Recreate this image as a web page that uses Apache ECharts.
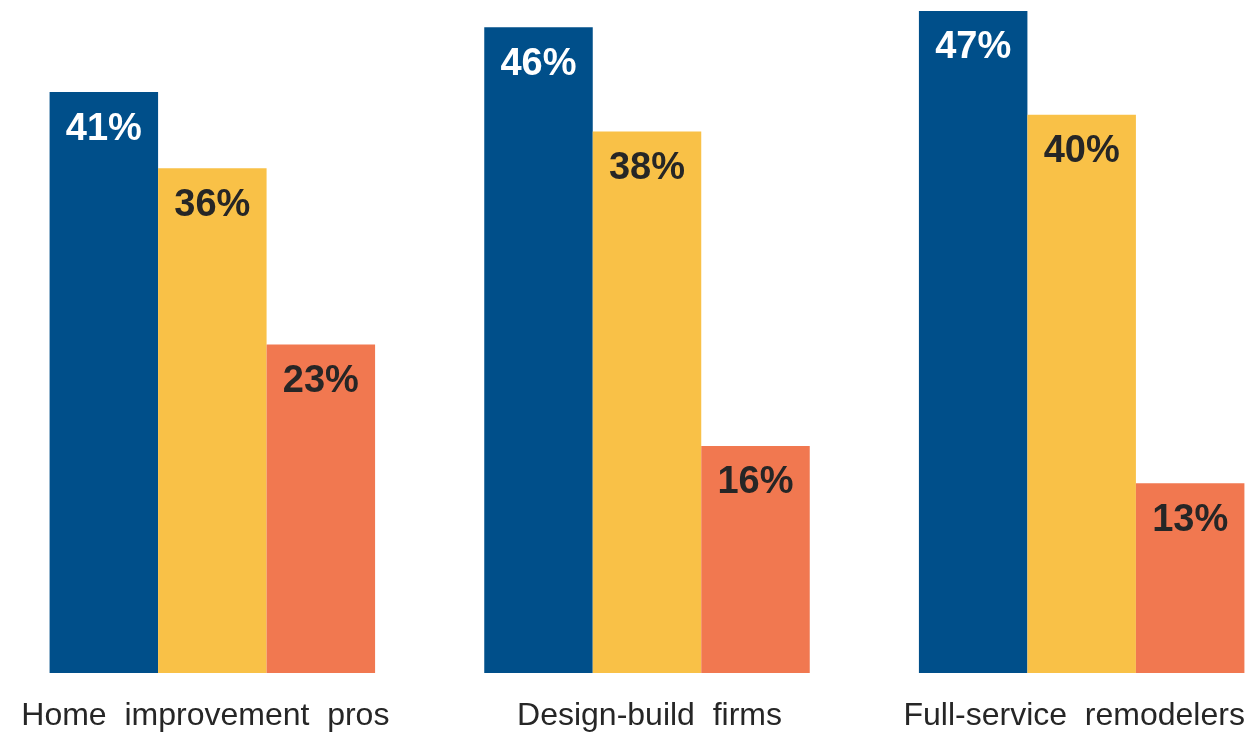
<!DOCTYPE html>
<html>
<head>
<meta charset="utf-8">
<script src="https://cdn.jsdelivr.net/npm/echarts@6/dist/echarts.min.js"></script>
<style>
html,body{margin:0;padding:0;background:#fff;overflow:hidden;width:1252px;height:733px;position:relative;}
#chart{position:absolute;left:-5px;top:0;width:1304px;height:733px;}
</style>
</head>
<body>
<div id="chart"></div>
<script>
var categories = ['Home improvement pros', 'Design-build firms', 'Full-service remodelers'];
var seriesBlue = [41.2, 45.8, 46.95];
var seriesYellow = [35.8, 38.4, 39.6];
var seriesOrange = [23.3, 16.1, 13.45];
var colors = ['#004F8A', '#F9C147', '#F17850'];
var labelColors = ['#ffffff', '#262626', '#262626'];

var chart = echarts.init(document.getElementById('chart'));
function mk(data, i) {
  return {
    type: 'bar',
    data: data,
    barWidth: 108.5,
    barGap: '0%',
    itemStyle: { color: colors[i] },
    label: {
      show: true,
      position: 'insideTop',
      distance: 18,
      fontFamily: 'Liberation Sans, Arial, sans-serif',
      fontWeight: 'bold',
      fontSize: 38,
      color: labelColors[i],
      formatter: function (p) { return Math.round(p.value) + '%'; }
    },
    animation: false
  };
}
var labelFont = { fontFamily: 'Liberation Sans, Arial, sans-serif', fontSize: 32, color: '#262626' };
chart.setOption({
  animation: false,
  grid: { left: 0, right: 0, top: 0, bottom: 60, containLabel: false },
  xAxis: {
    type: 'category',
    data: categories,
    axisLine: { show: false },
    axisTick: { show: false },
    axisLabel: {
      interval: 0,
      margin: 27,
      fontFamily: 'Liberation Sans, Arial, sans-serif',
      fontSize: 32,
      color: '#262626',
      formatter: function (v, idx) { return '{c' + idx + '|' + v.split(' ').join('  ') + '}'; },
      rich: {
        c0: Object.assign({ padding: [0, 14, 0, 0] }, labelFont),
        c1: Object.assign({ padding: [0, 0, 0, 5] }, labelFont),
        c2: Object.assign({ padding: [0, 15, 0, 0] }, labelFont)
      }
    }
  },
  yAxis: {
    type: 'value',
    min: 0,
    max: 47.73,
    show: false,
    splitLine: { show: false }
  },
  series: [mk(seriesBlue, 0), mk(seriesYellow, 1), mk(seriesOrange, 2)]
});
</script>
</body>
</html>
